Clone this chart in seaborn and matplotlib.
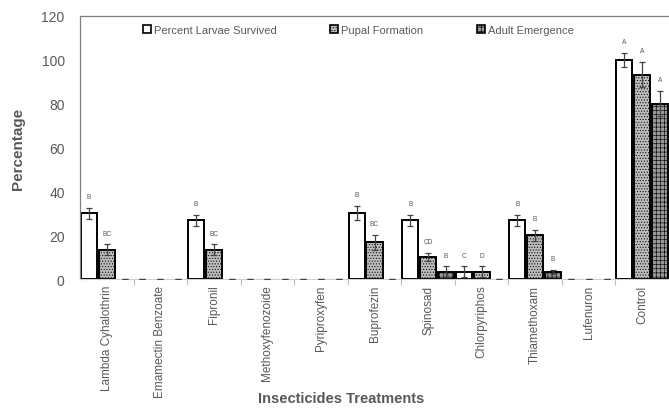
import pandas as pd
import matplotlib.pyplot as plt
import seaborn as sns
from matplotlib.patches import Patch
from matplotlib.ticker import FixedLocator

treatments = ["Lambda Cyhalothrin", "Emamectin Benzoate", "Fipronil", "Methoxyfenozoide",
              "Pyriproxyfen", "Buprofezin", "Spinosad", "Chlorpyriphos", "Thiamethoxam",
              "Lufenuron", "Control"]
series = ["Percent Larvae Survived", "Pupal Formation", "Adult Emergence"]

larvae = [30, 0, 26.7, 0, 0, 30, 26.7, 3.3, 26.7, 0, 100]
pupal = [13.3, 0, 13.3, 0, 0, 16.7, 10, 3.3, 20, 0, 93.3]
adult = [0, 0, 0, 0, 0, 0, 3.3, 0, 3.3, 0, 80]

larvae_err = [2.5, 0, 2.5, 0, 0, 3.3, 2.5, 2.5, 2.5, 0, 3.3]
pupal_err = [2.5, 0, 2.5, 0, 0, 3.3, 2.0, 2.5, 2.5, 0, 5.8]
adult_err = [0, 0, 0, 0, 0, 0, 2.5, 0, 1.0, 0, 5.8]

larvae_lbl = ["B", "", "B", "", "", "B", "B", "C", "B", "", "A"]
pupal_lbl = ["BC", "", "BC", "", "", "BC", "CD", "D", "B", "", "A"]
adult_lbl = ["", "", "", "", "", "", "B", "", "B", "", "A"]

if __name__ == "__main__":
    df = pd.DataFrame({
        "Treatment": treatments * 3,
        "Series": [s for s in series for _ in treatments],
        "Value": larvae + pupal + adult,
    })
    errs = [larvae_err, pupal_err, adult_err]
    lbls = [larvae_lbl, pupal_lbl, adult_lbl]

    sns.set_style("white")
    plt.rcParams["font.family"] = ["Liberation Sans", "DejaVu Sans"]
    plt.rcParams["hatch.linewidth"] = 0.45

    gray = "#595959"
    fig = plt.figure(figsize=(6.69, 4.10), dpi=100)
    ax = fig.add_axes([80 / 669, 130 / 410, 589 / 669, 263 / 410])

    sns.barplot(data=df, x="Treatment", y="Value", hue="Series", order=treatments,
                hue_order=series, width=1.0, gap=0.1, errorbar=None, legend=False, ax=ax)

    styles = [("white", ""), ("#bdbdbd", "......"), ("#9a9a9a", "++++")]
    for cont, (fc, hatch), err, lab in zip(ax.containers, styles, errs, lbls):
        for bar, e, t in zip(cont, err, lab):
            bar.set_facecolor(fc)
            bar.set_edgecolor("black")
            bar.set_hatch(hatch)
            bar.set_linewidth(1.4 if bar.get_height() > 0 else 0)
            x = bar.get_x() + bar.get_width() / 2
            h = bar.get_height()
            ax.errorbar(x, h, yerr=e, fmt="none", ecolor="#444444", elinewidth=0.9,
                        capsize=2, capthick=0.9, zorder=5)
            if t:
                ax.text(x, h + e + 3.5, t, ha="center", va="bottom", fontsize=4.8, color=gray)

    ax.set_xlim(-0.5, 10.5)
    ax.set_ylim(0, 120)
    ax.set_yticks(range(0, 121, 20))
    ax.tick_params(axis="y", labelsize=10, colors=gray, length=0, pad=11)
    ax.tick_params(axis="x", which="major", labelsize=8.5, labelcolor=gray, length=0,
                   labelrotation=90, pad=4)
    ax.xaxis.set_minor_locator(FixedLocator([i + 0.5 for i in range(len(treatments) - 1)]))
    ax.tick_params(axis="x", which="minor", bottom=True, length=4, color="#bfbfbf", width=0.8)

    for side in ["left", "top"]:
        ax.spines[side].set_color("#7f7f7f")
        ax.spines[side].set_linewidth(0.9)
    ax.spines["bottom"].set_color("#d0d0d0")
    ax.spines["right"].set_visible(False)

    ax.set_ylabel("Percentage", fontsize=11, fontweight="bold", color=gray)
    ax.yaxis.set_label_coords(-55 / 589, 0.5)
    ax.set_xlabel("Insecticides Treatments", fontsize=10.5, fontweight="bold", color=gray)
    ax.xaxis.label.set_va("center")
    ax.xaxis.set_label_coords(261 / 589, -119 / 263)

    handles = [Patch(facecolor=fc, edgecolor="black", hatch=h, linewidth=1.2) for fc, h in styles]
    leg = fig.legend(handles, series, loc="center left", bbox_to_anchor=(143 / 669, 1 - 31 / 410),
                     ncol=3, frameon=False, fontsize=8, handlelength=0.7, handleheight=0.7,
                     handletextpad=0.3, columnspacing=4.8, borderpad=0, borderaxespad=0)
    for t in leg.get_texts():
        t.set_color(gray)

    fig.savefig("out.png", dpi=100)
